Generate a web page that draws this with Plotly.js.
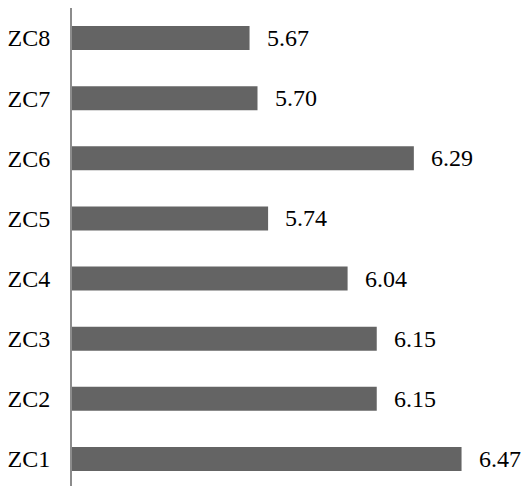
<!DOCTYPE html>
<html>
<head>
<meta charset="utf-8">
<script src="https://cdn.plot.ly/plotly-3.0.1.min.js"></script>
<style>html,body{margin:0;padding:0;background:#fff;}#chart{width:521px;height:486px;}</style>
</head>
<body>
<div id="chart"></div>
<script>
const categories = ["ZC1","ZC2","ZC3","ZC4","ZC5","ZC6","ZC7","ZC8"];
const values = [6.47, 6.15, 6.15, 6.04, 5.74, 6.29, 5.70, 5.67];
const labels = ["6.47","6.15","6.15","6.04","5.74","6.29","5.70","5.67"];

function mkFont() { return {family: "Liberation Serif", size: 24, color: "#000000"}; }

const annotations = categories.map((c, i) => ({
  x: values[i], y: c, xref: "x", yref: "y",
  text: labels[i], showarrow: false,
  xanchor: "left", yanchor: "middle", xshift: 15,
  font: mkFont()
}));

Plotly.newPlot("chart", [{
  type: "bar",
  orientation: "h",
  y: categories,
  x: values,
  width: 0.4,
  marker: {color: "#646464"},
  hoverinfo: "none"
}], {
  width: 521, height: 486,
  margin: {l: 72, r: 0, t: 8, b: 0, pad: 0},
  paper_bgcolor: "#ffffff", plot_bgcolor: "#ffffff",
  showlegend: false,
  font: mkFont(),
  xaxis: {range: [5, 5 + 449/265], showticklabels: false, showgrid: false, zeroline: false, showline: false, ticks: ""},
  yaxis: {type: "category", range: [-0.45, 7.5], showgrid: false, zeroline: false,
          showline: true, linecolor: "#8c8c8c", linewidth: 2, ticks: "",
          ticklabelstandoff: 15, tickfont: mkFont()},
  annotations: annotations
}, {staticPlot: true});
</script>
</body>
</html>
